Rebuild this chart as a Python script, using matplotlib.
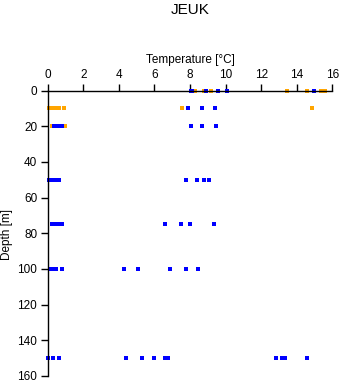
import matplotlib
matplotlib.use("Agg")
import matplotlib.pyplot as plt

plt.rcParams['font.family'] = ['Liberation Sans', 'DejaVu Sans']

title = "JEUK"
xlabel = "Temperature [°C]"
ylabel = "Depth [m]"
xticks = [0, 2, 4, 6, 8, 10, 12, 14, 16]
yticks = [0, 20, 40, 60, 80, 100, 120, 140, 160]

# blue series: (depth, temperature)
blue_depth = [0]*6 + [10]*3 + [20]*8 + [50]*9 + [75]*8 + [100]*9 + [150]*12
blue_temp = [8.05, 8.12, 8.88, 9.58, 10.09, 14.98,
             7.9, 8.69, 9.38,
             0.35, 0.45, 0.55, 0.7, 0.8, 8.07, 8.69, 9.47,
             0.05, 0.2, 0.35, 0.5, 0.65, 7.79, 8.39, 8.78, 9.05,
             0.22, 0.35, 0.6, 0.8, 6.59, 7.49, 7.99, 9.36,
             0.15, 0.3, 0.45, 0.8, 4.31, 5.09, 6.89, 7.79, 8.46,
             0.0, 0.3, 0.62, 4.4, 5.3, 5.99, 6.57, 6.76, 12.86, 13.2, 13.35, 14.58]

# orange series
orange_depth = [0]*7 + [10]*8 + [20]*3
orange_temp = [8.29, 8.78, 9.19, 13.46, 14.57, 15.37, 15.6,
               0.05, 0.2, 0.35, 0.5, 0.65, 0.9, 7.56, 14.87,
               0.25, 0.85, 0.95]

W, H = 341, 384
fig = plt.figure(figsize=(W/100, H/100), dpi=100)
ax = fig.add_axes([47.7/W, 1-376/H, (332.3-47.7)/W, (376-90.5)/H])

ax.plot(orange_temp, orange_depth, linestyle='none', marker='s', markersize=2.6,
        markeredgewidth=0, color='#FFA500', clip_on=False)
ax.plot(blue_temp, blue_depth, linestyle='none', marker='s', markersize=2.6,
        markeredgewidth=0, color='#0000FF', clip_on=False)

ax.set_xlim(0, 16)
ax.set_ylim(160, 0)
ax.set_xticks(xticks)
ax.set_yticks(yticks)
ax.xaxis.tick_top()
ax.xaxis.set_label_position('top')
for s in ['right', 'bottom']:
    ax.spines[s].set_visible(False)
for s in ['top', 'left']:
    ax.spines[s].set_linewidth(1.0)
ax.tick_params(axis='x', direction='out', length=5, width=1, pad=1.5, labelsize=8.5)
ax.tick_params(axis='y', direction='out', length=5, width=1, pad=2.5, labelsize=8.5)
ax.set_xlabel(xlabel, fontsize=8.5, labelpad=4.5)
fig.text(7/W, 1-234/H, ylabel, rotation=90, ha='center', va='center', fontsize=8.5)
fig.text((47.7+332.3)/2/W, 1-10/H, title, ha='center', va='center', fontsize=11)

fig.savefig("out.png", dpi=100, facecolor='white')
